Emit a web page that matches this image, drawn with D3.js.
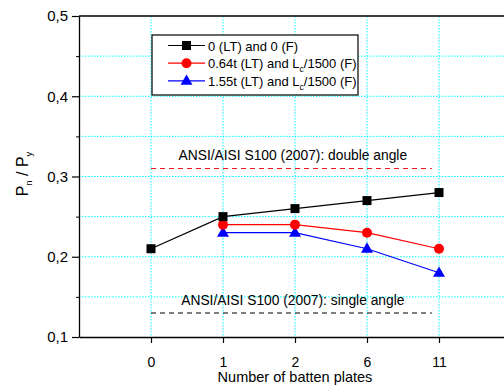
<!DOCTYPE html>
<html>
<head>
<meta charset="utf-8">
<script src="https://cdn.jsdelivr.net/npm/d3@7"></script>
<style>
  body { margin: 0; background: #fff; overflow: hidden; }
  svg { font-family: "Liberation Sans", Arial, sans-serif; display: block; }
</style>
</head>
<body>
<div id="chart"></div>
<script>
// categories on the x axis (equally spaced)
const categories = ['0', '1', '2', '6', '11'];

// series values (null = no point)
const seriesZero = [0.21, 0.25, 0.26, 0.27, 0.28];
const seriesRed = [null, 0.24, 0.24, 0.23, 0.21];
const seriesBlue = [null, 0.23, 0.23, 0.21, 0.18];

const legendLabels = ['0 (LT) and 0 (F)', '0.64t (LT) and L|c|/1500 (F)', '1.55t (LT) and L|c|/1500 (F)'];

// code reference levels
const refDouble = 0.31;
const refSingle = 0.13;
const refDoubleLabel = 'ANSI/AISI S100 (2007): double angle';
const refSingleLabel = 'ANSI/AISI S100 (2007): single angle';

const yTicks = [0.1, 0.2, 0.3, 0.4, 0.5];
const yMinorTicks = [0.15, 0.25, 0.35, 0.45];

function draw () {
  const svgWidth = 504;
  const svgHeight = 390;
  const left = 79, right = 511, top = 16, bottom = 337;

  const svg = d3.select('#chart')
    .append('svg')
    .attr('width', svgWidth)
    .attr('height', svgHeight);

  // index scale: -1 is the left axis, 5 is the right edge
  const x = d3.scaleLinear().domain([-1, 5]).range([left, right]);
  const y = d3.scaleLinear().domain([0.1, 0.5]).range([bottom, top]);

  // grid
  const grid = svg.append('g')
    .attr('stroke', '#00ffff')
    .attr('stroke-width', 1)
    .attr('stroke-dasharray', '1.5,1.5');
  grid.selectAll('.hg')
    .data(yTicks.concat(yMinorTicks).filter(v => v > 0.1 && v < 0.5))
    .enter().append('line')
    .attr('x1', left).attr('x2', svgWidth)
    .attr('y1', d => y(d)).attr('y2', d => y(d));
  grid.selectAll('.vg')
    .data(categories)
    .enter().append('line')
    .attr('x1', (d, i) => x(i)).attr('x2', (d, i) => x(i))
    .attr('y1', top).attr('y2', bottom);

  // axes
  const yAxis = svg.append('g')
    .attr('transform', `translate(${left},0)`)
    .call(d3.axisLeft(y).tickValues(yTicks).tickSize(7).tickSizeOuter(0).tickPadding(4)
      .tickFormat(d => d3.format('.1f')(d).replace('.', ',')));
  yAxis.selectAll('.tick text').attr('font-size', 15).attr('fill', '#000');
  yAxis.select('.domain').attr('stroke-width', 1.3);
  yAxis.selectAll('.tick line').attr('stroke-width', 1.2);
  svg.append('g')
    .attr('transform', `translate(${left},0)`)
    .call(d3.axisLeft(y).tickValues(yMinorTicks).tickSize(3).tickFormat(''))
    .call(g => g.select('.domain').remove());

  const xAxis = svg.append('g')
    .attr('transform', `translate(0,${bottom})`)
    .call(d3.axisBottom(x).tickValues(d3.range(categories.length)).tickSize(6).tickSizeOuter(0).tickPadding(14)
      .tickFormat(i => categories[i]));
  xAxis.select('.domain').attr('stroke-width', 1.3);
  xAxis.selectAll('.tick line').attr('stroke-width', 1.2);
  xAxis.selectAll('.tick text').attr('font-size', 14).attr('fill', '#000');

  // top frame
  svg.append('line')
    .attr('x1', left).attr('x2', svgWidth)
    .attr('y1', top).attr('y2', top)
    .attr('stroke', '#000').attr('stroke-width', 1.3);

  // axis titles
  svg.append('text')
    .attr('x', x(2)).attr('y', 382)
    .attr('text-anchor', 'middle')
    .attr('font-size', 14.5)
    .text('Number of batten plates');

  const yt = svg.append('text')
    .attr('transform', 'translate(28,174) rotate(-90)')
    .attr('text-anchor', 'middle')
    .attr('font-size', 16);
  yt.append('tspan').text('P');
  yt.append('tspan').attr('font-size', 9.5).attr('dy', 4).text('n');
  yt.append('tspan').attr('dy', -4).text(' / P');
  yt.append('tspan').attr('font-size', 9.5).attr('dy', 4).text('y');

  // reference lines
  const refs = [
    { v: refDouble, label: refDoubleLabel, color: '#e8191c' },
    { v: refSingle, label: refSingleLabel, color: '#000' }
  ];
  refs.forEach(r => {
    svg.append('line')
      .attr('x1', x(0)).attr('x2', x(3.9))
      .attr('y1', y(r.v)).attr('y2', y(r.v))
      .attr('stroke', r.color)
      .attr('stroke-width', 1.1)
      .attr('stroke-dasharray', '5,4');
    svg.append('text')
      .attr('x', x(1.97)).attr('y', y(r.v) - 8)
      .attr('text-anchor', 'middle')
      .attr('font-size', 13.8)
      .text(r.label);
  });

  // series
  const series = [
    { values: seriesZero, color: '#000', shape: 'square' },
    { values: seriesRed, color: '#ff0000', shape: 'circle' },
    { values: seriesBlue, color: '#0000ff', shape: 'triangle' }
  ];

  const line = d3.line()
    .defined(d => d.v !== null)
    .x(d => x(d.i))
    .y(d => y(d.v));

  function marker (g, shape, color) {
    if (shape === 'square') {
      g.append('rect').attr('x', -4.5).attr('y', -4.5).attr('width', 9).attr('height', 9).attr('fill', color);
    } else if (shape === 'circle') {
      g.append('circle').attr('r', 5).attr('fill', color);
    } else {
      g.append('path').attr('d', d3.symbol(d3.symbolTriangle, 62)()).attr('transform', 'translate(0,0.5)').attr('fill', color);
    }
  }

  // draw later series first so black sits on top
  series.slice().reverse().forEach(s => {
    const pts = s.values.map((v, i) => ({ i, v }));
    svg.append('path')
      .datum(pts)
      .attr('fill', 'none')
      .attr('stroke', s.color)
      .attr('stroke-width', 1.2)
      .attr('d', line);
    pts.filter(d => d.v !== null).forEach(d => {
      const g = svg.append('g').attr('transform', `translate(${x(d.i)},${y(d.v)})`);
      marker(g, s.shape, s.color);
    });
  });

  // legend
  const lg = svg.append('g');
  lg.append('rect')
    .attr('x', 152).attr('y', 35)
    .attr('width', 206).attr('height', 60)
    .attr('fill', '#fff')
    .attr('stroke', '#000')
    .attr('stroke-width', 1.2);
  series.forEach((s, k) => {
    const cy = 45.5 + k * 17.7;
    lg.append('line')
      .attr('x1', 168).attr('x2', 205)
      .attr('y1', cy).attr('y2', cy)
      .attr('stroke', s.color).attr('stroke-width', 1.2);
    const g = lg.append('g').attr('transform', `translate(186.5,${cy})`);
    marker(g, s.shape, s.color);
    const t = lg.append('text')
      .attr('x', 208).attr('y', cy + 5)
      .attr('font-size', 13);
    const parts = legendLabels[k].split('|');
    t.append('tspan').text(parts[0]);
    if (parts.length > 1) {
      t.append('tspan').attr('font-size', 8.5).attr('dy', 4).text(parts[1]);
      t.append('tspan').attr('dy', -4).text(parts[2]);
    }
  });
}

draw();
</script>
</body>
</html>
